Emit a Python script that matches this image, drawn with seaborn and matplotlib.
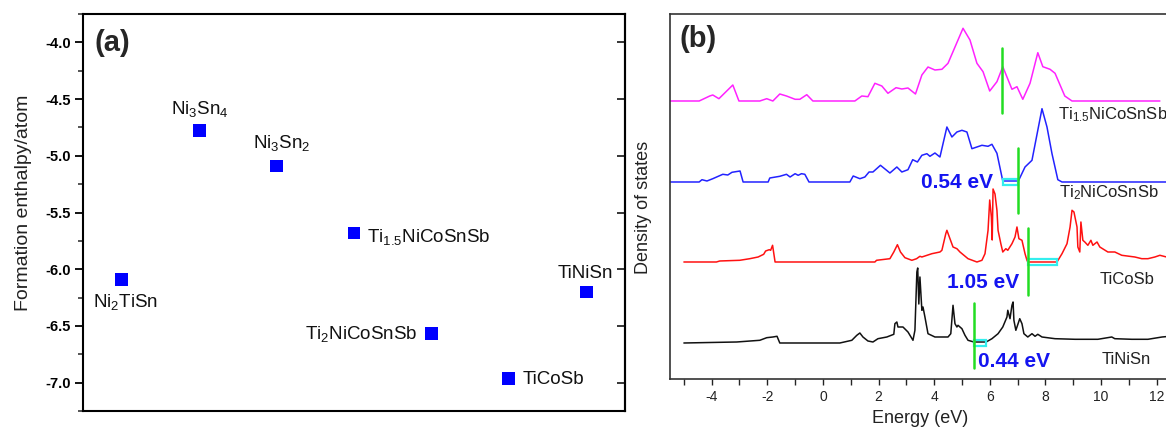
import numpy as np
import pandas as pd
import matplotlib
matplotlib.use("Agg")
import matplotlib.pyplot as plt
from matplotlib.patches import Rectangle
from matplotlib.ticker import MultipleLocator, FormatStrFormatter
import seaborn as sns

# ---------------- data: panel (a) formation enthalpies ----------------
compounds = ["Ni2TiSn", "Ni3Sn4", "Ni3Sn2", "Ti1.5NiCoSnSb",
             "Ti2NiCoSnSb", "TiCoSb", "TiNiSn"]
compound_labels = [r"Ni$_\mathregular{2}$TiSn",
                   r"Ni$_\mathregular{3}$Sn$_\mathregular{4}$",
                   r"Ni$_\mathregular{3}$Sn$_\mathregular{2}$",
                   r"Ti$_\mathregular{1.5}$NiCoSnSb",
                   r"Ti$_\mathregular{2}$NiCoSnSb",
                   "TiCoSb",
                   "TiNiSn"]
formation_enthalpy = [-6.09, -4.78, -5.09, -5.68, -6.57, -6.96, -6.20]

# ---------------- data: panel (b) densities of states (energy eV, DOS) ----------------
dos_ti15 = [(-5.6, 0), (-4.45, 0), (-4.07, 5), (-3.96, 6), (-3.74, 2.3), (-3.24, 16),
            (-3.02, 0), (-2.27, 0), (-2.02, 2.3), (-1.80, 0), (-1.55, 7), (-1.31, 5),
            (-1.00, 1.7), (-0.83, 1.7), (-0.58, 6.3), (-0.36, 0), (1.15, 0), (1.40, 5),
            (1.62, 4.3), (1.87, 17.7), (2.12, 15), (2.34, 7.7), (2.63, 13.3), (2.84, 12),
            (3.06, 13), (3.33, 7), (3.56, 26), (3.78, 34), (4.03, 31), (4.28, 31.7),
            (4.50, 37.7), (5.04, 72.7), (5.29, 61), (5.54, 37.7), (5.76, 29.3), (6.00, 10),
            (6.26, 19.3), (6.47, 34.3), (6.80, 11.7), (6.98, 14.3), (7.19, 1.7), (7.45, 17.7),
            (7.73, 48.3), (7.91, 34.3), (8.17, 31.7), (8.35, 27.7), (8.70, 5), (8.96, 0),
            (12.12, 0)]

dos_ti2 = [(-5.6, 0), (-4.45, 0), (-4.35, 2.3), (-4.17, 1), (-3.96, 3.3), (-3.60, 7.7),
           (-3.42, 7), (-3.27, 9.7), (-2.98, 11), (-2.87, 0), (-1.97, 0), (-1.91, 4),
           (-1.55, 5.7), (-1.31, 7.7), (-1.18, 5), (-1.00, 8.3), (-0.89, 6.7), (-0.77, 8.3),
           (-0.65, 7.7), (-0.50, 0), (0.97, 0), (1.09, 6), (1.33, 3.3), (1.51, 5),
           (1.66, 10), (1.80, 10), (2.07, 16.7), (2.41, 9), (2.66, 15), (2.84, 10),
           (3.06, 12.3), (3.23, 22.3), (3.40, 20), (3.56, 26.7), (3.74, 28.3), (3.85, 25.7),
           (4.03, 29), (4.21, 25), (4.46, 55), (4.64, 45), (4.82, 50), (5.00, 51.7),
           (5.18, 50), (5.36, 33.3), (5.72, 36.7), (5.94, 35.7), (6.08, 37.7), (6.26, 28.7),
           (6.47, 1), (7.03, 1), (7.27, 15), (7.52, 21.7), (7.88, 73.3), (8.06, 55),
           (8.24, 28.3), (8.45, 2.3), (8.60, 0), (12.6, 0)]

dos_ticosb = [(-5.0, 0), (-3.83, 0), (-3.71, 1), (-2.99, 1.7), (-2.63, 3.3), (-2.33, 5),
              (-2.13, 7.7), (-2.06, 11), (-1.93, 12.3), (-1.88, 11.7), (-1.81, 16.7),
              (-1.72, 0), (1.87, 0), (1.93, 1.7), (2.41, 3.3), (2.55, 10), (2.68, 17.3),
              (2.79, 10), (2.95, 4.3), (3.20, 1.7), (3.37, 3.3), (3.49, 5.7), (3.56, 5),
              (3.92, 8.3), (4.21, 10), (4.28, 11.7), (4.42, 28.3), (4.46, 31.7), (4.57, 23.3),
              (4.68, 15), (4.82, 13.3), (4.93, 10), (5.22, 3.3), (5.54, 0), (5.72, 1.7),
              (5.83, 8.3), (5.94, 31.7), (6.00, 62), (6.06, 45), (6.09, 22), (6.12, 73),
              (6.19, 68), (6.26, 51.7), (6.30, 31.7), (6.40, 18.3), (6.47, 10), (6.58, 13.3),
              (6.65, 11.7), (6.80, 18.3), (6.91, 25), (6.98, 35), (7.05, 23.3), (7.16, 21.7),
              (7.27, 8.3), (7.34, 1.7), (7.37, 0), (8.42, 0), (8.60, 8.3), (8.78, 18.3),
              (8.89, 35), (8.96, 51.7), (9.03, 50), (9.14, 35), (9.17, 15), (9.24, 10),
              (9.28, 40), (9.35, 21.7), (9.42, 20), (9.53, 16.7), (9.64, 21.7), (9.71, 16.7),
              (9.86, 20), (9.96, 15), (10.25, 10), (10.50, 10), (10.75, 6.7), (11.22, 5),
              (11.47, 3.3), (11.69, 3.3), (11.94, 5), (12.12, 6.7), (12.6, 3.3)]

dos_tinisn = [(-5.0, 0), (-3.10, 1), (-2.27, 2.7), (-2.02, 5.3), (-1.80, 6), (-1.65, 6.7),
              (-1.55, 0), (0.61, 0), (1.04, 2.7), (1.22, 7.7), (1.33, 10), (1.44, 6),
              (1.62, 2), (1.80, 1), (1.98, 4.3), (2.30, 6), (2.55, 8.7), (2.59, 19.3),
              (2.66, 21), (2.70, 16), (2.88, 16), (3.06, 11), (3.24, 2.7), (3.31, 12.7),
              (3.38, 71), (3.41, 75), (3.45, 39), (3.49, 66), (3.56, 32.7), (3.60, 36),
              (3.67, 26), (3.78, 9.3), (4.03, 6), (4.50, 6), (4.60, 9.3), (4.68, 37.7),
              (4.75, 19.3), (4.82, 16), (4.86, 17.7), (5.00, 14.3), (5.11, 7.7), (5.22, 2.7),
              (5.43, 1), (5.87, 1), (6.08, 4.3), (6.30, 9.3), (6.47, 16), (6.62, 26),
              (6.65, 32.7), (6.73, 24.3), (6.80, 37.7), (6.84, 41), (6.87, 22.7), (6.94, 12.7),
              (7.02, 19.3), (7.08, 24.3), (7.16, 19.3), (7.23, 9.3), (7.37, 6), (7.52, 9.3),
              (7.63, 6.7), (7.73, 8.7), (7.88, 6), (8.35, 4.3), (9.07, 3.7), (9.89, 3.7),
              (10.39, 6), (10.50, 4.3), (11.11, 3.7), (11.69, 3.7), (12.20, 6), (12.6, 7)]

# band gaps: valence-band edge (eV) and gap width (eV)
gap_vbm = {"Ti2NiCoSnSb": 6.47, "TiCoSb": 7.37, "TiNiSn": 5.43}
gap_width = {"Ti2NiCoSnSb": 0.54, "TiCoSb": 1.05, "TiNiSn": 0.44}
# energies of the green reference markers (eV)
marker_energy = {"Ti1.5NiCoSnSb": 6.44, "Ti2NiCoSnSb": 7.01, "TiCoSb": 7.37, "TiNiSn": 5.43}

# ---------------- style ----------------
sns.set_theme(style="ticks")
plt.rcParams["font.family"] = ["Liberation Sans", "DejaVu Sans"]
plt.rcParams["mathtext.fontset"] = "custom"
plt.rcParams["mathtext.rm"] = "Liberation Sans"
plt.rcParams["mathtext.it"] = "Liberation Sans:italic"
plt.rcParams["mathtext.bf"] = "Liberation Sans:bold"
plt.rcParams["axes.unicode_minus"] = False

fig = plt.figure(figsize=(11.66, 4.28), dpi=100)

# ================= panel (a) =================
axa = fig.add_axes([0.0712, 0.0397, 0.4648, 0.9276])
sns.scatterplot(x=compounds, y=formation_enthalpy, marker="s", s=85,
                color="#0000ff", edgecolor="none", ax=axa, zorder=3)
axa.set_xlim(-0.5, len(compounds) - 0.5)
axa.set_ylim(-7.25, -3.75)
axa.set_xticks([])
axa.yaxis.set_major_locator(MultipleLocator(0.5))
axa.yaxis.set_minor_locator(MultipleLocator(0.25))
axa.yaxis.set_major_formatter(FormatStrFormatter("%.1f"))
axa.tick_params(axis="y", which="major", direction="out", length=6, width=1.3,
                labelsize=10.5, colors="black", pad=3)
axa.tick_params(axis="y", which="minor", direction="out", length=3.5, width=1.1)
for lbl in axa.get_yticklabels():
    lbl.set_fontweight("bold")
for sp in axa.spines.values():
    sp.set_linewidth(1.5)
    sp.set_color("black")
axa.set_ylabel("Formation enthalpy/atom", fontsize=14, color="#222222")
axa.yaxis.set_label_coords(-0.094, 0.525)
axa.set_xlabel("")

right = axa.secondary_yaxis("right")
right.yaxis.set_major_locator(MultipleLocator(0.5))
right.tick_params(axis="y", which="major", direction="in", length=6, width=1.3,
                  labelright=False)
right.tick_params(axis="y", which="minor", length=0)
right.spines["right"].set_linewidth(1.5)

label_offsets = {
    "Ni2TiSn": ((3, -19.5), "center"),
    "Ni3Sn4": ((0.5, 12.0), "center"),
    "Ni3Sn2": ((4, 13.0), "center"),
    "Ti1.5NiCoSnSb": ((9.5, -6.5), "left"),
    "Ti2NiCoSnSb": ((-10.5, -3.6), "right"),
    "TiCoSb": ((10, -4.3), "left"),
    "TiNiSn": ((-0.7, 10.0), "center"),
}
for name, text, val in zip(compounds, compound_labels, formation_enthalpy):
    off, ha = label_offsets[name]
    axa.annotate(text, xy=(name, val), xytext=off, textcoords="offset points",
                 ha=ha, va="baseline", fontsize=13.5, color="#111111")

axa.text(0.022, 0.962, "(a)", transform=axa.transAxes, fontsize=21,
         fontweight="bold", ha="left", va="top")

# ================= panel (b) =================
axb = fig.add_axes([0.5746, 0.1145, 0.4292, 0.8528])
curves = [
    ("Ti1.5NiCoSnSb", r"Ti$_\mathregular{1.5}$NiCoSnSb", dos_ti15, "#ff22ff", 278),
    ("Ti2NiCoSnSb", r"Ti$_\mathregular{2}$NiCoSnSb", dos_ti2, "#2222ff", 197),
    ("TiCoSb", "TiCoSb", dos_ticosb, "#ff1111", 117),
    ("TiNiSn", "TiNiSn", dos_tinisn, "#111111", 36),
]
name_pos = {"Ti1.5NiCoSnSb": (8.45, -18), "Ti2NiCoSnSb": (8.49, -15),
            "TiCoSb": (9.96, -22), "TiNiSn": (10.04, -21)}
green_span = {"Ti1.5NiCoSnSb": (-12, 53), "Ti2NiCoSnSb": (-31, 34),
              "TiCoSb": (-33, 34), "TiNiSn": (-25, 40)}
gap_text_pos = {"Ti2NiCoSnSb": (3.53, -6), "TiCoSb": (4.46, -26), "TiNiSn": (5.58, -24)}

for name, text, pts, color, offset in curves:
    df = pd.DataFrame(pts, columns=["energy", "dos"])
    df["shifted"] = df["dos"] + offset
    sns.lineplot(data=df, x="energy", y="shifted", ax=axb, color=color,
                 linewidth=1.1, sort=False, estimator=None)
    lo, hi = green_span[name]
    axb.plot([marker_energy[name]] * 2, [offset + lo, offset + hi],
             color="#22dd22", linewidth=1.8, zorder=4)
    tx, ty = name_pos[name]
    axb.text(tx, offset + ty, text, fontsize=12, color="#222222",
             ha="left", va="baseline")
    if name in gap_width:
        axb.add_patch(Rectangle((gap_vbm[name], offset - 2.8), gap_width[name], 6.0,
                                facecolor="none", edgecolor="#33eeee",
                                linewidth=1.6, zorder=3))
        gx, gy = gap_text_pos[name]
        axb.text(gx, offset + gy, f"{gap_width[name]:.2f} eV", fontsize=15,
                 fontweight="bold", color="#1414f0", ha="left", va="baseline")

axb.set_xlim(-5.5, 12.5)
axb.set_ylim(0, 365)
axb.set_yticks([])
axb.xaxis.set_major_locator(MultipleLocator(2))
axb.xaxis.set_minor_locator(MultipleLocator(1))
axb.tick_params(axis="x", which="major", direction="out", length=4, width=1,
                labelsize=10, colors="#222222", pad=4)
axb.tick_params(axis="x", which="minor", direction="out", length=4, width=1)
for sp in axb.spines.values():
    sp.set_linewidth(1.2)
    sp.set_color("#333333")
axb.set_xlabel("Energy (eV)", fontsize=13, color="#222222")
axb.xaxis.set_label_coords(0.5, -0.085)
axb.set_ylabel("Density of states", fontsize=13, color="#222222")
axb.yaxis.set_label_coords(-0.036, 0.47)
axb.text(0.02, 0.97, "(b)", transform=axb.transAxes, fontsize=21,
         fontweight="bold", ha="left", va="top")

fig.savefig("out.png", dpi=100)
